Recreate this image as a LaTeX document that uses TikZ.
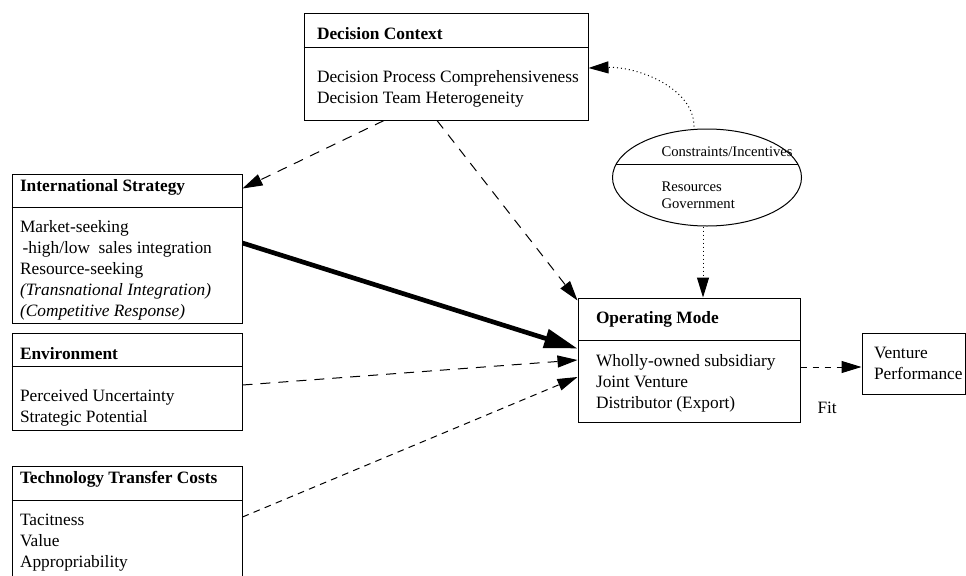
\documentclass[tikz,border=0pt]{standalone}
\usepackage{fontspec}
\setmainfont{Liberation Serif}
\usetikzlibrary{shapes.geometric,arrows.meta,calc}

\tikzset{every picture/.style={line width=0.75pt}}
\tikzset{
  box/.style={draw, rectangle, inner sep=0pt},
  hd/.style={anchor=base west, inner sep=0pt, font=\fontsize{13}{15.75}\selectfont\bfseries},
  bd/.style={anchor=base west, inner sep=0pt, align=left, font=\fontsize{13}{15.75}\selectfont},
  sm/.style={anchor=base west, inner sep=0pt, align=left, font=\fontsize{11}{12.75}\selectfont},
  tip/.style={-{Triangle[length=15pt,width=9pt]}},
  bigtip/.style={-{Triangle[length=25pt,width=14pt]}},
  longdash/.style={dash pattern=on 7.5pt off 6pt},
  shortdash/.style={dash pattern=on 5pt off 4pt},
  dots/.style={dash pattern=on 0.75pt off 2.25pt},
}

\begin{document}
\begin{tikzpicture}[x=0.75pt,y=0.75pt,yscale=-1,xscale=1]
\useasboundingbox (0,0) rectangle (966,575);
\clip (0,0) rectangle (966,575);

% Decision Context (body nodes sit on the baseline of their last line)
\node [box, minimum width=213pt, minimum height=80.25pt] (dc) at (446,66.5) {};
\draw ($(dc.north west)+(0,35)$) -- ($(dc.north east)+(0,35)$);
\node [hd] (dc-hd) at ($(dc.north west)+(13,27)$) {Decision Context};
\node [bd] (dc-bd) at ($(dc.north west)+(13,91)$) {Decision Process Comprehensiveness\\Decision Team Heterogeneity};

% International Strategy
\node [box, minimum width=172.5pt, minimum height=111.75pt] (is) at (127,248.5) {};
\draw ($(is.north west)+(0,34)$) -- ($(is.north east)+(0,34)$);
\node [hd] (is-hd) at ($(is.north west)+(8,18)$) {International Strategy};
\node [bd] (is-bd) at ($(is.north west)+(8,143)$) {Market-seeking\\\hspace{2pt}-high/low~ sales integration\\Resource-seeking\\\textit{(Transnational Integration)}\\\textit{(Competitive Response)}};

% Environment
\node [box, minimum width=172.5pt, minimum height=72.75pt] (env) at (127,381.5) {};
\draw ($(env.north west)+(0,34)$) -- ($(env.north east)+(0,34)$);
\node [hd] (env-hd) at ($(env.north west)+(8,27)$) {Environment};
\node [bd] (env-bd) at ($(env.north west)+(8,90)$) {Perceived Uncertainty\\Strategic Potential};

% Technology Transfer Costs
\node [box, minimum width=172.5pt, minimum height=100.5pt] (ttc) at (127,533) {};
\draw ($(ttc.north west)+(0,35)$) -- ($(ttc.north east)+(0,35)$);
\node [hd] (ttc-hd) at ($(ttc.north west)+(8,18)$) {Technology Transfer Costs};
\node [bd] (ttc-bd) at ($(ttc.north west)+(8,102)$) {Tacitness\\Value\\Appropriability};

% Operating Mode
\node [box, minimum width=166.5pt, minimum height=93pt] (om) at (689,360) {};
\draw ($(om.north west)+(0,43)$) -- ($(om.north east)+(0,43)$);
\node [hd] (om-hd) at ($(om.north west)+(18,26)$) {Operating Mode};
\node [bd] (om-bd) at ($(om.north west)+(18,111)$) {Wholly-owned subsidiary\\Joint Venture\\Distributor (Export)};

% Venture Performance
\node [box, minimum width=77.25pt, minimum height=45.75pt] (vp) at (913.5,363.5) {};
\node [bd] (vp-bd) at ($(vp.north west)+(12,47)$) {Venture\\Performance};
\node [bd] (fit) at (817,413) {Fit};

% Constraints/Incentives
\node [draw, ellipse, inner sep=0pt, minimum width=141.75pt, minimum height=72.75pt] (ci) at (707,177.5) {};
\draw ($(ci.center)+(-90.8,-13.5)$) -- ($(ci.center)+(90.8,-13.5)$);
\node [sm] (ci-hd) at ($(ci.center)+(-46,-21.5)$) {Constraints/Incentives};
\node [sm] (ci-bd) at ($(ci.center)+(-46,30.5)$) {Resources\\Government};

% Connectors
\draw [longdash, tip] ($(dc.south)+(-62,0)$) -- ($(is.north east)+(0,15)$);
\draw [longdash, tip] ($(dc.south)+(-9,0)$) -- ($(om.north west)+(0,3)$);
\draw [line width=3.5pt, bigtip] ($(is.east)+(0,-5.5)$) -- ($(om.west)+(0,-11.5)$);
\draw [longdash, tip] ($(env.east)+(0,3.5)$) -- (om.west);
\draw [shortdash, tip] ($(ttc.east)+(0,-16)$) -- ($(om.west)+(0,17)$);
\draw [shortdash, tip] ($(om.east)+(0,7)$) -- ($(vp.west)+(0,3.5)$);
\draw [dots, tip] ($(ci.north)+(-13,-2)$) .. controls ($(ci.north)+(-13,-40)$) and ($(dc.east)+(50,0)$) .. ($(dc.east)+(0,1.5)$);
\draw [dots, tip] ($(ci.south)+(-4,0)$) -- ($(om.north)+(14,0)$);

\end{tikzpicture}
\end{document}
